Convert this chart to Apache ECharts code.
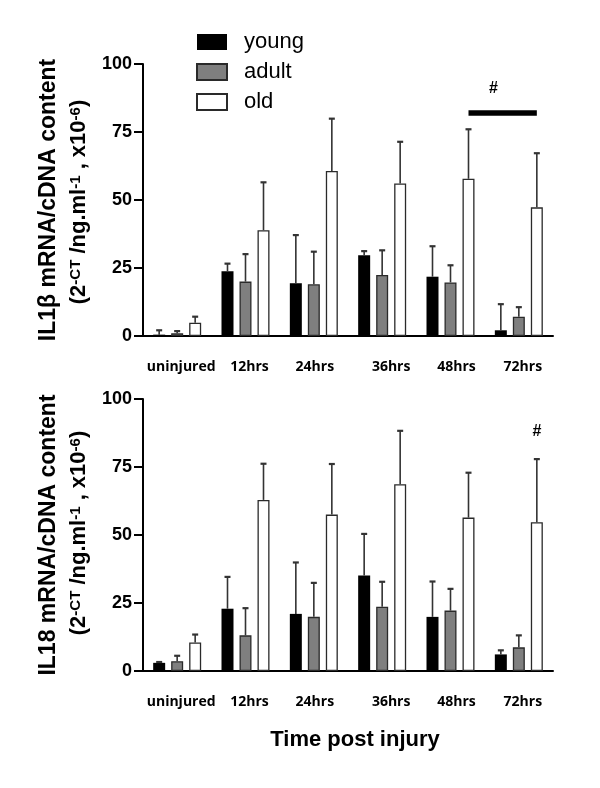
<!DOCTYPE html>
<html>
<head>
<meta charset="utf-8">
<script src="https://cdn.jsdelivr.net/npm/echarts@6/dist/echarts.min.js"></script>
<style>
html,body{margin:0;padding:0;background:#fff;}
#chart{width:600px;height:788px;}
</style>
</head>
<body>
<div id="chart"></div>
<script>
// ---------------- data ----------------
const categories = ['uninjured', '12hrs', '24hrs', '36hrs', '48hrs', '72hrs'];
const groups = ['young', 'adult', 'old'];
const yTicks = [0, 25, 50, 75, 100];

// IL1β panel: bar means and upper end of error bars
const il1bYoung    = [0.5, 23.8, 19.4, 29.7, 21.8, 2.1];
const il1bYoungErr = [2.1, 26.6, 37.1, 31.2, 33.0, 11.7];
const il1bAdult    = [1.0, 20.0, 19.0, 22.4, 19.7, 7.1];
const il1bAdultErr = [1.8, 30.1, 31.0, 31.5, 26.0, 10.6];
const il1bOld      = [4.9, 38.9, 60.7, 56.1, 57.8, 47.3];
const il1bOldErr   = [7.1, 56.5, 79.9, 71.4, 76.0, 67.2];

// IL18 panel
const il18Young    = [3.0, 22.9, 21.0, 35.1, 19.9, 6.1];
const il18YoungErr = [3.3, 34.6, 39.9, 50.4, 32.9, 7.6];
const il18Adult    = [3.6, 13.1, 19.9, 23.6, 22.2, 8.7];
const il18AdultErr = [5.6, 23.1, 32.4, 32.8, 30.2, 13.1];
const il18Old      = [10.5, 62.9, 57.5, 68.7, 56.4, 54.7];
const il18OldErr   = [13.4, 76.2, 76.1, 88.3, 72.9, 77.9];

// significance annotations (panel index, categories, value level)
const sigBars  = [{ panel: 0, from: '48hrs', to: '72hrs', value: 82 }];
const sigMarks = [{ panel: 0, at: '48hrs', value: 91 }, { panel: 1, at: '72hrs', value: 88 }];

// ---------------- style ----------------
const SANS = '"Liberation Sans", Arial, sans-serif';
const LABEL_FONT = '"Open Sans", "Liberation Sans", sans-serif';
const BAR_W = 12;
const BAR_GAP = 0.5;
const groupOffset = i => (i - 1) * BAR_W * (1 + BAR_GAP);
const fills = ['#000000', '#7f7f7f', '#ffffff'];
const borders = ['#000000', '#2a2a2a', '#2a2a2a'];
const labelNudge = [4, 4, 1, 9, 6, 4];   // px shift of category labels
const markNudge = [43, 18];              // px x shift of '#' marks from category centre

const panels = [
  { values: [il1bYoung, il1bAdult, il1bOld], errs: [il1bYoungErr, il1bAdultErr, il1bOldErr] },
  { values: [il18Young, il18Adult, il18Old], errs: [il18YoungErr, il18AdultErr, il18OldErr] }
];

const grids = [
  { left: 143, right: 47, top: 64, height: 272 },
  { left: 143, right: 47, top: 399, height: 272 }
];

function makeXAxis(i) {
  const rich = {};
  labelNudge.forEach((d, k) => {
    rich['c' + k] = { fontFamily: LABEL_FONT, fontWeight: 'bold', fontSize: 14, color: '#000',
                      padding: d >= 0 ? [0, 0, 0, 2 * d] : [0, -2 * d, 0, 0] };
  });
  return {
    type: 'category', gridIndex: i, data: categories,
    axisLine: { lineStyle: { color: '#000', width: 2 } },
    axisTick: { alignWithLabel: true, length: 8, lineStyle: { color: '#000', width: 2 } },
    axisLabel: {
      margin: 24, interval: 0,
      formatter: (v, idx) => '{c' + idx + '|' + v + '}',
      rich: rich
    }
  };
}
function makeYAxis(i) {
  return {
    type: 'value', gridIndex: i, min: yTicks[0], max: yTicks[yTicks.length - 1],
    interval: yTicks[1] - yTicks[0],
    splitLine: { show: false },
    axisLine: { show: true, lineStyle: { color: '#000', width: 2 } },
    axisTick: { show: true, length: 9, lineStyle: { color: '#000', width: 2 } },
    axisLabel: { margin: 11, fontFamily: SANS, fontWeight: 'bold', fontSize: 18, color: '#000' }
  };
}

function errRender(gi) {
  return function (params, api) {
    const c = api.value(0);
    const base = api.coord([c, api.value(1)]);
    const top = api.coord([c, api.value(2)]);
    const x = base[0] + groupOffset(gi);
    return {
      type: 'group',
      children: [
        { type: 'line', shape: { x1: x, y1: base[1], x2: x, y2: top[1] }, style: { stroke: '#333', lineWidth: 1.6 } },
        { type: 'line', shape: { x1: x - 3, y1: top[1], x2: x + 3, y2: top[1] }, style: { stroke: '#333', lineWidth: 2.2 } }
      ]
    };
  };
}

const series = [];
panels.forEach((p, pi) => {
  groups.forEach((g, gi) => {
    series.push({
      name: g, type: 'bar', xAxisIndex: pi, yAxisIndex: pi,
      data: p.values[gi], barWidth: BAR_W, barGap: (BAR_GAP * 100) + '%',
      itemStyle: { color: fills[gi], borderColor: borders[gi], borderWidth: gi === 0 ? 0 : 1.3 },
      emphasis: { disabled: true }, z: 2
    });
  });
  groups.forEach((g, gi) => {
    series.push({
      type: 'custom', xAxisIndex: pi, yAxisIndex: pi, z: 3,
      data: p.values[gi].map((v, k) => [k, v, p.errs[gi][k]]),
      encode: { x: 0, y: [1, 2] },
      renderItem: errRender(gi), silent: true
    });
  });
  const bars = sigBars.filter(s => s.panel === pi);
  if (bars.length) {
    series.push({
      type: 'custom', xAxisIndex: pi, yAxisIndex: pi, z: 4, silent: true,
      data: bars.map(s => [categories.indexOf(s.from), categories.indexOf(s.to), s.value]),
      encode: { x: [0, 1], y: 2 },
      renderItem: function (params, api) {
        const a = api.coord([api.value(0), api.value(2)]);
        const b = api.coord([api.value(1), api.value(2)]);
        return { type: 'line', shape: { x1: a[0] + groupOffset(2), y1: a[1], x2: b[0] + groupOffset(2), y2: b[1] },
                 style: { stroke: '#000', lineWidth: 5.5 } };
      }
    });
  }
  const marks = sigMarks.map((s, k) => Object.assign({ k: k }, s)).filter(s => s.panel === pi);
  if (marks.length) {
    series.push({
      type: 'custom', xAxisIndex: pi, yAxisIndex: pi, z: 4, silent: true,
      data: marks.map(s => [categories.indexOf(s.at), s.value, s.k]),
      encode: { x: 0, y: 1 },
      renderItem: function (params, api) {
        const a = api.coord([api.value(0), api.value(1)]);
        return { type: 'text', x: a[0] + markNudge[api.value(2)], y: a[1],
                 style: { text: '#', fill: '#000', font: 'bold 16px ' + SANS, align: 'center', verticalAlign: 'middle' } };
      }
    });
  }
});

const supRich = {
  n: { fontFamily: SANS, fontWeight: 'bold', fontSize: 22, color: '#000' },
  s: { fontFamily: SANS, fontWeight: 'bold', fontSize: 15, color: '#000', verticalAlign: 'top' }
};
const unitText = '{n|(2}{s|-CT}{n| /ng.ml}{s|-1}{n| , x10}{s|-6}{n|)}';

function yNameGraphics(title, cy1, cy2) {
  return [
    { type: 'text', x: 49, y: cy1, rotation: Math.PI / 2,
      style: { text: title, fill: '#000', font: 'bold 23px ' + SANS, align: 'center', verticalAlign: 'middle' } },
    { type: 'text', x: 79, y: cy2, rotation: Math.PI / 2,
      style: { text: unitText, rich: supRich, align: 'center', verticalAlign: 'middle' } }
  ];
}

const chart = echarts.init(document.getElementById('chart'), null, { renderer: 'canvas' });
chart.setOption({
  backgroundColor: '#fff',
  animation: false,
  grid: grids,
  xAxis: [makeXAxis(0), makeXAxis(1)],
  yAxis: [makeYAxis(0), makeYAxis(1)],
  legend: {
    data: groups, orient: 'vertical', left: 196, top: 31, padding: 0,
    icon: 'rect',
    itemWidth: 30, itemHeight: 16, itemGap: 8, selectedMode: false,
    textStyle: { fontFamily: SANS, fontSize: 22, color: '#000', padding: [0, 0, 0, 12] }
  },
  graphic: [].concat(
    yNameGraphics('IL1β mRNA/cDNA content', 200, 202),
    yNameGraphics('IL18 mRNA/cDNA content', 535, 533),
    [{ type: 'text', x: 355, y: 740,
       style: { text: 'Time post injury', fill: '#000', font: 'bold 22px ' + SANS, align: 'center', verticalAlign: 'middle' } }]
  ),
  series: series
});
</script>
</body>
</html>
